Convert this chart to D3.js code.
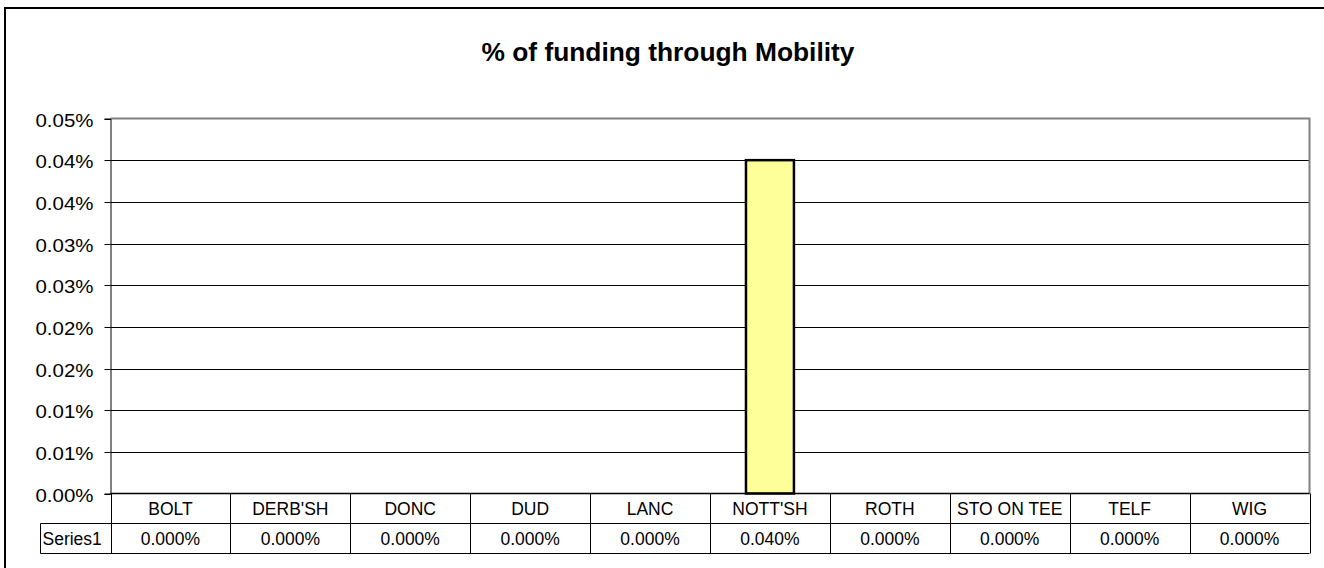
<!DOCTYPE html>
<html>
<head>
<meta charset="utf-8">
<script src="https://cdn.jsdelivr.net/npm/d3@7"></script>
<style>
  html, body { margin: 0; padding: 0; background: #fff; overflow: hidden; }
  svg { display: block; font-family: Arial, "Liberation Sans", sans-serif; }
</style>
</head>
<body>
<svg id="chart" width="1324" height="568"></svg>
<script>
const categories = ["BOLT", "DERB'SH", "DONC", "DUD", "LANC", "NOTT'SH", "ROTH", "STO ON TEE", "TELF", "WIG"];
const seriesName = "Series1";
const values = [0, 0, 0, 0, 0, 0.0004, 0, 0, 0, 0];
const tickValues = [0, 0.00005, 0.0001, 0.00015, 0.0002, 0.00025, 0.0003, 0.00035, 0.0004, 0.00045];
const tickLabels = ["0.00%", "0.01%", "0.01%", "0.02%", "0.02%", "0.03%", "0.03%", "0.04%", "0.04%", "0.05%"];
const title = "% of funding through Mobility";

const svg = d3.select("#chart");
const plot = { left: 110.5, right: 1309.5, top: 118.5, bottom: 493.5 };
const rowH = 30;

// outer chart border (right and bottom edges fall outside the picture)
svg.append("rect").attr("x", 5).attr("y", 8).attr("width", 1340).attr("height", 580)
  .attr("fill", "#fff").attr("stroke", "#000").attr("stroke-width", 2);

// title
svg.append("text").attr("x", 668).attr("y", 61).attr("text-anchor", "middle")
  .attr("font-weight", "bold").attr("font-size", 25.5)
  .attr("textLength", 373).attr("lengthAdjust", "spacingAndGlyphs").text(title);

const x = d3.scaleBand().domain(categories).range([plot.left, plot.right]).paddingInner(0).paddingOuter(0);
const y = d3.scaleLinear().domain([0, 0.00045]).range([plot.bottom, plot.top]);

// gridlines
svg.append("g").selectAll("line").data(tickValues.slice(1, -1)).join("line")
  .attr("x1", plot.left).attr("x2", plot.right)
  .attr("y1", d => Math.round(y(d)) + 0.5).attr("y2", d => Math.round(y(d)) + 0.5)
  .attr("stroke", "#000").attr("stroke-width", 1);

// plot area border (gray top/right)
svg.append("path")
  .attr("d", `M${plot.left},${plot.top}H${plot.right}V${plot.bottom}`)
  .attr("fill", "none").attr("stroke", "#808080").attr("stroke-width", 2);

// y axis
const yAxis = d3.axisLeft(y).tickValues(tickValues).tickSize(6).tickPadding(11)
  .tickFormat((d, i) => tickLabels[i]);
const gy = svg.append("g").attr("transform", `translate(${plot.left},0)`).call(yAxis);
gy.select(".domain").attr("stroke", "#000");
gy.selectAll(".tick line").attr("stroke", "#000");
gy.selectAll(".tick text").attr("font-size", 18).attr("fill", "#000")
  .attr("font-family", "Arial, 'Liberation Sans', sans-serif")
  .attr("dy", "0.4em")
  .attr("textLength", 58).attr("lengthAdjust", "spacingAndGlyphs");
gy.selectAll(".tick").attr("transform", d => `translate(0,${Math.round(y(d)) + 0.5})`);

// bars
const barW = x.bandwidth() * 0.4;
svg.append("g").selectAll("rect")
  .data(values.map((v, i) => ({ cat: categories[i], v })).filter(d => d.v > 0))
  .join("rect")
  .attr("x", d => x(d.cat) + (x.bandwidth() - barW) / 2)
  .attr("y", d => y(d.v))
  .attr("width", barW)
  .attr("height", d => plot.bottom - y(d.v))
  .attr("fill", "#FFFF99").attr("stroke", "#000").attr("stroke-width", 2.5);

// data table
const table = svg.append("g");
const tTop = plot.bottom, tMid = plot.bottom + rowH, tBot = plot.bottom + 2 * rowH;
const labelLeft = 40.5;
table.append("line").attr("x1", plot.left).attr("x2", plot.right).attr("y1", tTop).attr("y2", tTop).attr("stroke", "#000").attr("stroke-width", 1.5);
table.append("line").attr("x1", labelLeft).attr("x2", plot.right).attr("y1", tMid).attr("y2", tMid).attr("stroke", "#000");
table.append("line").attr("x1", labelLeft).attr("x2", plot.right).attr("y1", tBot).attr("y2", tBot).attr("stroke", "#000");
table.append("line").attr("x1", labelLeft).attr("x2", labelLeft).attr("y1", tMid).attr("y2", tBot).attr("stroke", "#000");
const bounds = categories.map(c => x(c)).concat([plot.right]);
table.selectAll("line.v").data(bounds).join("line").attr("class", "v")
  .attr("x1", d => Math.round(d) + 0.5).attr("x2", d => Math.round(d) + 0.5)
  .attr("y1", tTop).attr("y2", tBot).attr("stroke", "#000");
table.selectAll("text.cat").data(categories).join("text").attr("class", "cat")
  .attr("x", d => x(d) + x.bandwidth() / 2).attr("y", tTop + 21)
  .attr("text-anchor", "middle").attr("font-size", 17.5).text(d => d);
const fmt = d3.format(".3%");
table.selectAll("text.val").data(values).join("text").attr("class", "val")
  .attr("x", (d, i) => x(categories[i]) + x.bandwidth() / 2).attr("y", tMid + 21)
  .attr("text-anchor", "middle").attr("font-size", 17.5).text(d => fmt(d));
table.append("text").attr("x", labelLeft + 2).attr("y", tMid + 21)
  .attr("font-size", 17.5).text(seriesName);
</script>
</body>
</html>
